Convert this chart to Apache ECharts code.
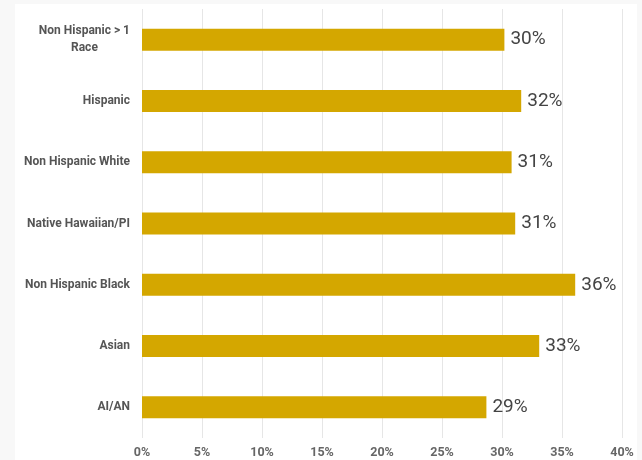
<!DOCTYPE html>
<html><head><meta charset="utf-8">
<script src="https://cdn.jsdelivr.net/npm/echarts@6/dist/echarts.min.js"></script>
<style>html,body{margin:0;padding:0;background:#f8f8f8}#c{width:642px;height:460px}</style>
</head><body><div id="c"></div>
<script>
const categories = ["Non Hispanic > 1\nRace", "Hispanic", "Non Hispanic White", "Native Hawaiian/PI", "Non Hispanic Black", "Asian", "AI/AN"];
const values = [30.2, 31.6, 30.8, 31.1, 36.1, 33.1, 28.7];
const tickLabels = ["0%", "5%", "10%", "15%", "20%", "25%", "30%", "35%", "40%"];

const chart = echarts.init(document.getElementById('c'), null, {renderer: 'canvas'});
chart.setOption({
  backgroundColor: '#f8f8f8',
  animation: false,
  graphic: [{type: 'rect', z: -10, shape: {x: 15, y: 4, width: 622, height: 460}, style: {fill: '#ffffff'}}],
  grid: {left: 142, right: 20, top: 9, bottom: 22},
  xAxis: {
    type: 'value', min: 0, max: 40, interval: 5,
    axisLine: {show: false}, axisTick: {show: false},
    splitLine: {lineStyle: {color: '#e6e6e6', width: 1}},
    axisLabel: {color: '#666', fontFamily: 'Roboto', fontWeight: 'bold', fontSize: 12.5, margin: 8,
      formatter: (v) => tickLabels[Math.round(v / 5)]}
  },
  yAxis: {
    type: 'category', data: categories, inverse: true,
    axisLine: {show: false}, axisTick: {show: false},
    axisLabel: {margin: 12, align: 'right',
      formatter: (v) => v.split('\n').map(s => '{a|' + s + '}').join('\n'),
      rich: {a: {color: '#555', fontFamily: 'Roboto', fontWeight: 'bold', fontSize: 12, lineHeight: 17, align: 'center'}}}
  },
  series: [{
    type: 'bar', data: values, barWidth: 22,
    itemStyle: {color: '#d4a700'},
    label: {show: true, position: 'right', distance: 6, color: '#444', fontFamily: 'Roboto', fontSize: 19,
      formatter: (p) => Math.round(p.value) + '%'}
  }]
});
</script></body></html>
